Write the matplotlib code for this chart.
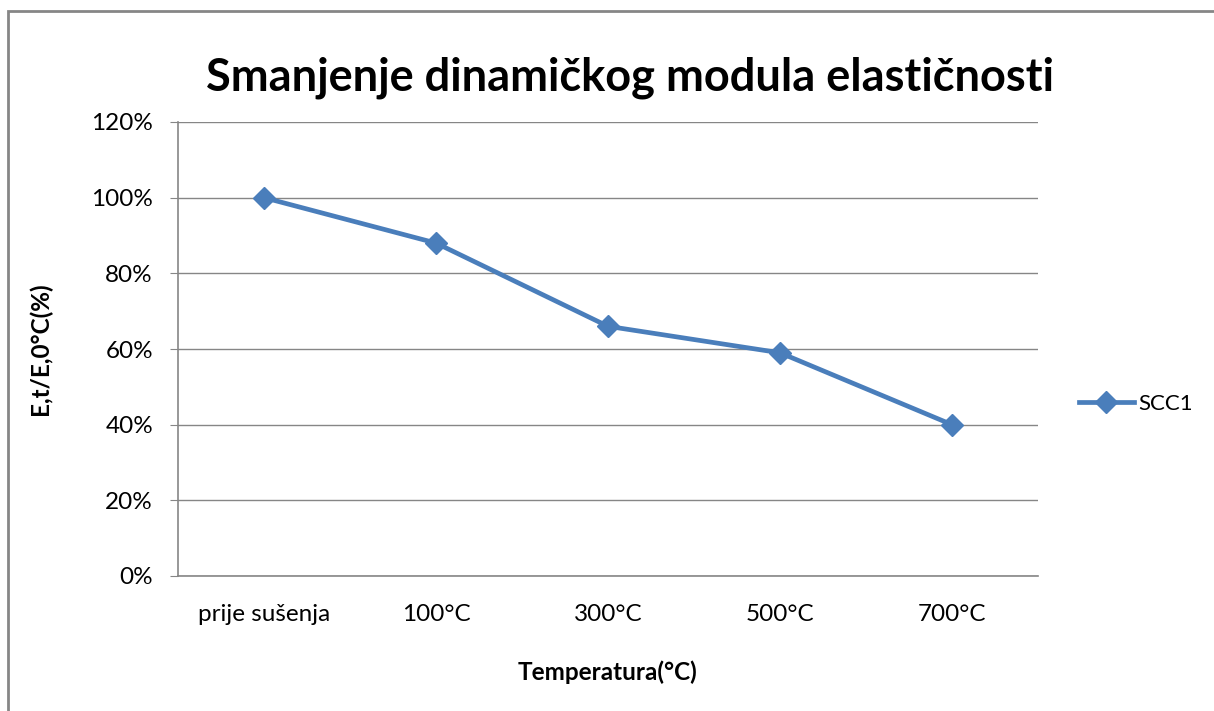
import matplotlib.pyplot as plt
from matplotlib.patches import Rectangle
from matplotlib.ticker import PercentFormatter

plt.rcParams['font.family'] = ['Lato', 'DejaVu Sans']

kategorije = ["prije sušenja", "100°C", "300°C", "500°C", "700°C"]
scc1 = [100, 88, 66, 59, 40]
y_ticks = [0, 20, 40, 60, 80, 100, 120]

boja = '#4A7EBB'
siva = '#868686'
W, H = 1214, 711

fig = plt.figure(figsize=(W / 100, H / 100), dpi=100)
ax = fig.add_axes([178 / W, 1 - 576 / H, 860 / W, 454 / H])

x = range(len(kategorije))
ax.plot(x, scc1, '-D', color=boja, lw=3.4, ms=11, label='SCC1', zorder=3)

ax.set_xlim(-0.5, len(kategorije) - 0.5)
ax.set_ylim(0, 120)
ax.set_yticks(y_ticks)
ax.yaxis.set_major_formatter(PercentFormatter(decimals=0))
ax.set_xticks(list(x))
ax.set_xticklabels(kategorije)
ax.grid(axis='y', color=siva, lw=1)
ax.set_axisbelow(True)

for s in ['top', 'right']:
    ax.spines[s].set_visible(False)
for s in ['left', 'bottom']:
    ax.spines[s].set_color(siva)
    ax.spines[s].set_linewidth(1.2)
ax.tick_params(axis='y', length=6, color=siva, labelsize=17.5, pad=12)
ax.tick_params(axis='x', length=0, labelsize=17.5, pad=20)

fig.text(630 / W, 1 - 78 / H, "Smanjenje dinamičkog modula elastičnosti",
         fontsize=32.5, fontweight='bold', ha='center', va='center')
fig.text(608 / W, 1 - 672 / H, "Temperatura(°C)", fontsize=17.5,
         fontweight='bold', ha='center', va='center')
fig.text(40 / W, 1 - 349 / H, "E,t/E,0°C(%)", fontsize=17.5,
         fontweight='bold', ha='center', va='center', rotation=90)

ax.legend(loc='center left', bbox_to_anchor=(1.035, 0.379), frameon=False,
          fontsize=16, handlelength=2.45, handletextpad=0.2, borderpad=0)

# okvir grafikona
fig.patches.append(Rectangle((8 / W, -0.1), 1.2, 1.1 - 11 / H,
                             transform=fig.transFigure, fill=False,
                             edgecolor=siva, lw=2))

fig.savefig('out.png', dpi=100)
